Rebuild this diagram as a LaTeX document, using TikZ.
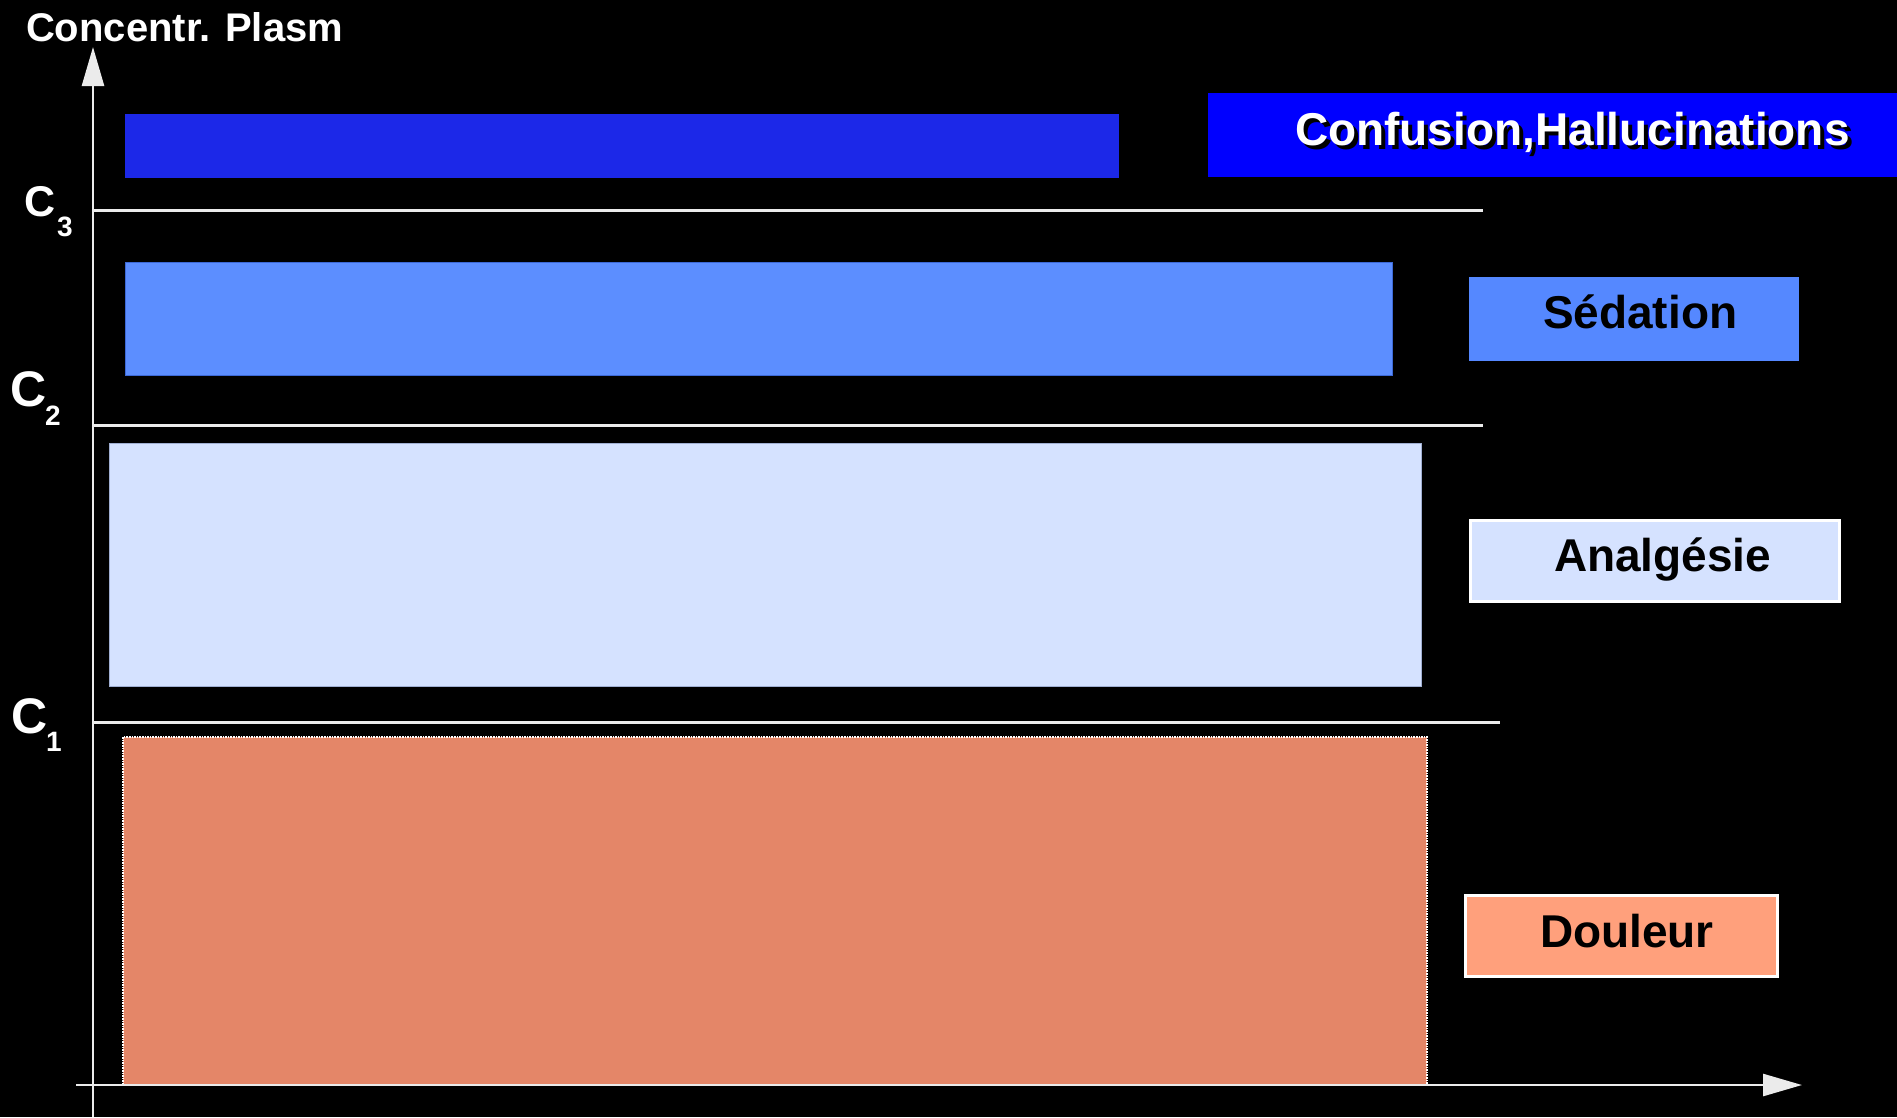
\documentclass[tikz,border=0pt]{standalone}
\usepackage{fontspec}
\setmainfont{Liberation Sans}
\usetikzlibrary{arrows.meta}
\definecolor{darkbar}{RGB}{28,40,232}
\definecolor{confbox}{RGB}{0,0,255}
\definecolor{medbar}{RGB}{92,142,255}
\definecolor{medbox}{RGB}{85,136,255}
\definecolor{mededge}{RGB}{60,105,215}
\definecolor{lightbar}{RGB}{213,226,255}
\definecolor{lightedge}{RGB}{160,175,210}
\definecolor{salmonbar}{RGB}{228,134,104}
\definecolor{salmonbox}{RGB}{255,160,124}
\definecolor{axiscol}{RGB}{235,235,235}
\tikzset{
  bar/.style={rectangle, inner sep=0pt, outer sep=0pt, anchor=north west},
  lbl/.style={inner sep=0pt, outer sep=0pt, anchor=base west, font=\fontsize{46pt}{50pt}\selectfont\bfseries},
  clbl/.style={inner sep=0pt, outer sep=0pt, anchor=base west, text=white, font=\fontsize{50pt}{54pt}\selectfont\bfseries},
  csub/.style={inner sep=0pt, outer sep=0pt, anchor=base west, text=white, font=\fontsize{28pt}{30pt}\selectfont\bfseries},
  level/.style={draw=axiscol, line width=3pt},
  axis/.style={draw=axiscol, line width=2.6pt, -{Triangle[length=39pt, width=22pt]}},
}
\begin{document}
\begin{tikzpicture}[x=1pt, y=-1pt]
\useasboundingbox (0,0) rectangle (1897,1117);
\fill[black] (0,0) rectangle (1897,1117);

% bars
\node[bar, fill=darkbar, minimum width=994pt, minimum height=64pt] (b3) at (125,114) {};
\node[bar, fill=medbar, draw=mededge, line width=1pt, minimum width=1267pt, minimum height=113pt] (b2) at (125,262) {};
\node[bar, fill=lightbar, draw=lightedge, line width=1pt, minimum width=1312pt, minimum height=243pt] (b1) at (109,443) {};
\node[bar, fill=salmonbar, draw=white, densely dotted, line width=1.6pt, minimum width=1304pt, minimum height=348pt] (b0) at (123,737) {};

% legend boxes
\node[bar, fill=confbox, minimum width=700pt, minimum height=84pt] (k3) at (1208,93) {};
\node[bar, fill=medbox, minimum width=330pt, minimum height=84pt] (k2) at (1469,277) {};
\node[bar, fill=lightbar, draw=white, line width=3pt, minimum width=369pt, minimum height=81pt] (k1) at (1470,520) {};
\node[bar, fill=salmonbox, draw=white, line width=3pt, minimum width=312pt, minimum height=81pt] (k0) at (1465,895) {};

% legend texts
\node[lbl, text=black] (t3s) at (1299,149) {Confusion,Hallucinations};
\node[lbl, text=white] (t3) at (1295,145) {Confusion,Hallucinations};
\node[lbl, text=black] (t2) at (1543,328) {Sédation};
\node[lbl, text=black] (t1) at (1554,571) {Analgésie};
\node[lbl, text=black] (t0) at (1540,947) {Douleur};

% axes
\coordinate (ybot) at (93,1117);
\coordinate (ytop) at (93,47);
\coordinate (xl) at (76,1085);
\coordinate (xr) at (1802,1085);
\draw[axis] (ybot) -- (ytop);
\draw[axis] (xl) -- (xr);

% level lines
\coordinate (c3a) at (93,210);  \coordinate (c3b) at (1483,210);
\coordinate (c2a) at (93,425);  \coordinate (c2b) at (1483,425);
\coordinate (c1a) at (93,722);  \coordinate (c1b) at (1500,722);
\draw[level] (c3a) -- (c3b);
\draw[level] (c2a) -- (c2b);
\draw[level] (c1a) -- (c1b);

% labels
\node[inner sep=0pt, outer sep=0pt, anchor=base west, text=white, font=\fontsize{40pt}{44pt}\selectfont\bfseries] (title) at (26,41) {Concentr. Plasm};
\node[clbl, font=\fontsize{43pt}{46pt}\selectfont\bfseries] (l3) at (24,216) {C};
\node[csub] (l3s) at (57,236) {3};
\node[clbl] (l2) at (10,406) {C};
\node[csub] (l2s) at (45,425) {2};
\node[clbl] (l1) at (12,733) {C};
\node[csub] (l1s) at (46,751) {1};
\end{tikzpicture}
\end{document}
